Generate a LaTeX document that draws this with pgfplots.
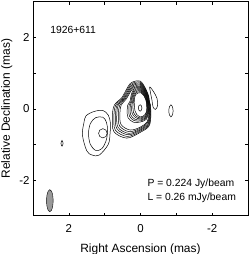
\documentclass[border=0pt]{standalone}
\usepackage{fontspec}
\setmainfont{Liberation Sans}
\usepackage{pgfplots}
\pgfplotsset{compat=1.18}
\tikzset{cont/.style={black, line width=0.5pt, smooth cycle, tension=0.55, mark=none}}
\begin{document}
\begin{tikzpicture}
\begin{axis}[name=ax, width=215bp, height=214bp, scale only axis,
  x dir=reverse, xmin=-3, xmax=3, ymin=-3, ymax=3,
  xtick={-2,0,2}, ytick={-2,0,2}, minor xtick={-1,1}, minor ytick={-1,1},
  major tick length=3pt, minor tick length=3pt,
  tick style={black, line width=0.4pt},
  /pgf/number format/assume math mode=true,
  ticklabel style={font=\fontsize{11.5}{13}\selectfont},
  xticklabel style={yshift=-5bp},
  label style={font=\fontsize{12}{14}\selectfont},
  xlabel style={yshift=-5bp},
  xlabel={Right Ascension (mas)}, ylabel={Relative Declination (mas)},
  axis line style={line width=0.5pt}]
% core contours
\addplot[cont] coordinates {(-0.28,0.1) (-0.249,0.203) (-0.233,0.333) (-0.169,0.507) (0,0.77) (0.26,0.728) (0.41,0.51) (0.517,0.314) (0.73,0.1) (0.785,-0.226) (0.742,-0.642) (0.383,-0.824) (0,-0.66) (-0.241,-0.482) (-0.29,-0.19) (-0.286,-0.019)};
\addplot[cont] coordinates {(-0.27,0.1) (-0.242,0.200) (-0.226,0.326) (-0.163,0.493) (0,0.741) (0.248,0.699) (0.391,0.491) (0.493,0.305) (0.691,0.1) (0.742,-0.208) (0.701,-0.601) (0.364,-0.778) (0,-0.63) (-0.231,-0.458) (-0.279,-0.179) (-0.276,-0.015)};
\addplot[cont] coordinates {(-0.26,0.1) (-0.235,0.197) (-0.218,0.318) (-0.157,0.478) (0,0.712) (0.236,0.669) (0.372,0.472) (0.469,0.295) (0.652,0.1) (0.699,-0.190) (0.660,-0.560) (0.344,-0.731) (0,-0.60) (-0.221,-0.433) (-0.268,-0.168) (-0.266,-0.010)};
\addplot[cont] coordinates {(-0.25,0.1) (-0.226,0.194) (-0.210,0.310) (-0.151,0.464) (0,0.683) (0.224,0.640) (0.352,0.452) (0.449,0.286) (0.618,0.1) (0.662,-0.174) (0.625,-0.525) (0.328,-0.691) (0,-0.574) (-0.211,-0.409) (-0.257,-0.157) (-0.256,-0.006)};
\addplot[cont] coordinates {(-0.24,0.1) (-0.219,0.191) (-0.202,0.302) (-0.145,0.449) (0,0.654) (0.212,0.611) (0.333,0.433) (0.425,0.276) (0.579,0.1) (0.618,-0.156) (0.584,-0.484) (0.309,-0.645) (0,-0.544) (-0.201,-0.384) (-0.246,-0.146) (-0.246,-0.002)};
\addplot[cont] coordinates {(-0.23,0.1) (-0.212,0.188) (-0.194,0.294) (-0.139,0.435) (0,0.624) (0.200,0.581) (0.314,0.414) (0.401,0.266) (0.540,0.1) (0.575,-0.138) (0.543,-0.443) (0.289,-0.598) (0,-0.514) (-0.191,-0.360) (-0.235,-0.135) (-0.236,0.002)};
\addplot[cont] coordinates {(-0.22,0.1) (-0.204,0.185) (-0.187,0.287) (-0.133,0.421) (0,0.596) (0.187,0.552) (0.264,0.364) (0.288,0.219) (0.355,0.1) (0.371,-0.054) (0.349,-0.249) (0.198,-0.379) (0,-0.372) (-0.164,-0.296) (-0.224,-0.124) (-0.226,0.006)};
\addplot[cont] coordinates {(-0.21,0.1) (-0.197,0.182) (-0.180,0.280) (-0.127,0.407) (0,0.566) (0.175,0.522) (0.244,0.344) (0.264,0.210) (0.316,0.1) (0.327,-0.036) (0.308,-0.208) (0.179,-0.332) (0,-0.342) (-0.154,-0.271) (-0.214,-0.114) (-0.216,0.010)};
\addplot[cont] coordinates {(-0.20,0.1) (-0.189,0.179) (-0.172,0.272) (-0.121,0.392) (0,0.537) (0.163,0.494) (0.228,0.328) (0.244,0.201) (0.282,0.1) (0.290,-0.020) (0.273,-0.173) (0.162,-0.292) (0,-0.316) (-0.145,-0.250) (-0.202,-0.102) (-0.206,0.015)};
\addplot[cont] coordinates {(-0.19,0.1) (-0.181,0.175) (-0.164,0.264) (-0.115,0.378) (0,0.508) (0.151,0.464) (0.208,0.308) (0.220,0.191) (0.243,0.1) (0.247,-0.002) (0.232,-0.132) (0.143,-0.246) (0,-0.286) (-0.135,-0.226) (-0.192,-0.092) (-0.196,0.019)};
\addplot[cont] coordinates {(-0.18,0.1) (-0.174,0.172) (-0.156,0.256) (-0.109,0.363) (0,0.479) (0.139,0.434) (0.189,0.289) (0.200,0.183) (0.209,0.1) (0.210,0.013) (0.197,-0.097) (0.126,-0.205) (0,-0.26) (-0.125,-0.201) (-0.180,-0.080) (-0.186,0.023)};
\addplot[cont] coordinates {(-0.17,0.1) (-0.166,0.169) (-0.148,0.248) (-0.103,0.349) (0,0.45) (0.126,0.405) (0.170,0.270) (0.176,0.173) (0.17,0.1) (0.166,0.031) (0.156,-0.056) (0.107,-0.159) (0,-0.23) (-0.115,-0.177) (-0.170,-0.070) (-0.176,0.027)};
% peak
\addplot[cont] coordinates {(0.06,0.02) (0.045,0.084) (0.01,0.11) (-0.025,0.084) (-0.04,0.02) (-0.025,-0.044) (0.01,-0.07) (0.045,-0.044)};
% crescent west of core
\addplot[cont] coordinates {(-0.26,0.61) (-0.37,0.47) (-0.46,0.29) (-0.48,0.10) (-0.42,-0.02) (-0.35,0.05) (-0.32,0.24) (-0.28,0.44)};
% western blob
\addplot[cont] coordinates {(-0.79,-0.06) (-0.81,0.06) (-0.85,0.11) (-0.89,0.06) (-0.91,-0.06) (-0.89,-0.18) (-0.85,-0.23) (-0.81,-0.18)};
% south-east component
\addplot[cont] coordinates {(1.62,-0.74) (1.58,-0.40) (1.52,-0.20) (1.30,-0.08) (1.05,-0.05) (0.90,-0.18) (0.84,-0.40) (0.85,-0.70) (0.90,-1.00) (1.15,-1.30) (1.35,-1.30) (1.50,-1.18)};
\addplot[cont] coordinates {(1.45,-0.70) (1.40,-0.42) (1.25,-0.25) (1.05,-0.24) (0.95,-0.38) (0.92,-0.62) (0.96,-0.90) (1.08,-1.12) (1.25,-1.17) (1.40,-1.00)};
\addplot[cont] coordinates {(1.17,-0.69) (1.135,-0.60) (1.05,-0.56) (0.965,-0.60) (0.93,-0.69) (0.965,-0.78) (1.05,-0.82) (1.135,-0.78)};
% small far blob
\addplot[cont] coordinates {(2.22,-0.97) (2.19,-0.89) (2.16,-0.97) (2.19,-1.05)};
% beam
\addplot[fill=gray!80, draw=black, line width=0.4pt, smooth cycle, tension=0.55, mark=none] coordinates {(2.622,-2.58) (2.610,-2.425) (2.576,-2.312) (2.53,-2.27) (2.484,-2.312) (2.450,-2.425) (2.438,-2.58) (2.450,-2.735) (2.484,-2.848) (2.53,-2.89) (2.576,-2.848) (2.610,-2.735)};
\node[anchor=west, inner sep=0pt, font=\fontsize{10.4}{12}\selectfont] at (axis cs:2.52,2.22) {1926+611};
\node[anchor=west, inner sep=0pt, font=\fontsize{10.4}{12}\selectfont] at (axis cs:-0.19,-2.10) {P = 0.224 Jy/beam};
\node[anchor=west, inner sep=0pt, font=\fontsize{10.4}{12}\selectfont] at (axis cs:-0.19,-2.50) {L = 0.26 mJy/beam};
\end{axis}
\pgfresetboundingbox
\path[use as bounding box] ([xshift=-33bp,yshift=-38.3bp]ax.south west) rectangle ([xshift=1bp,yshift=1.7bp]ax.north east);
\end{tikzpicture}
\end{document}
